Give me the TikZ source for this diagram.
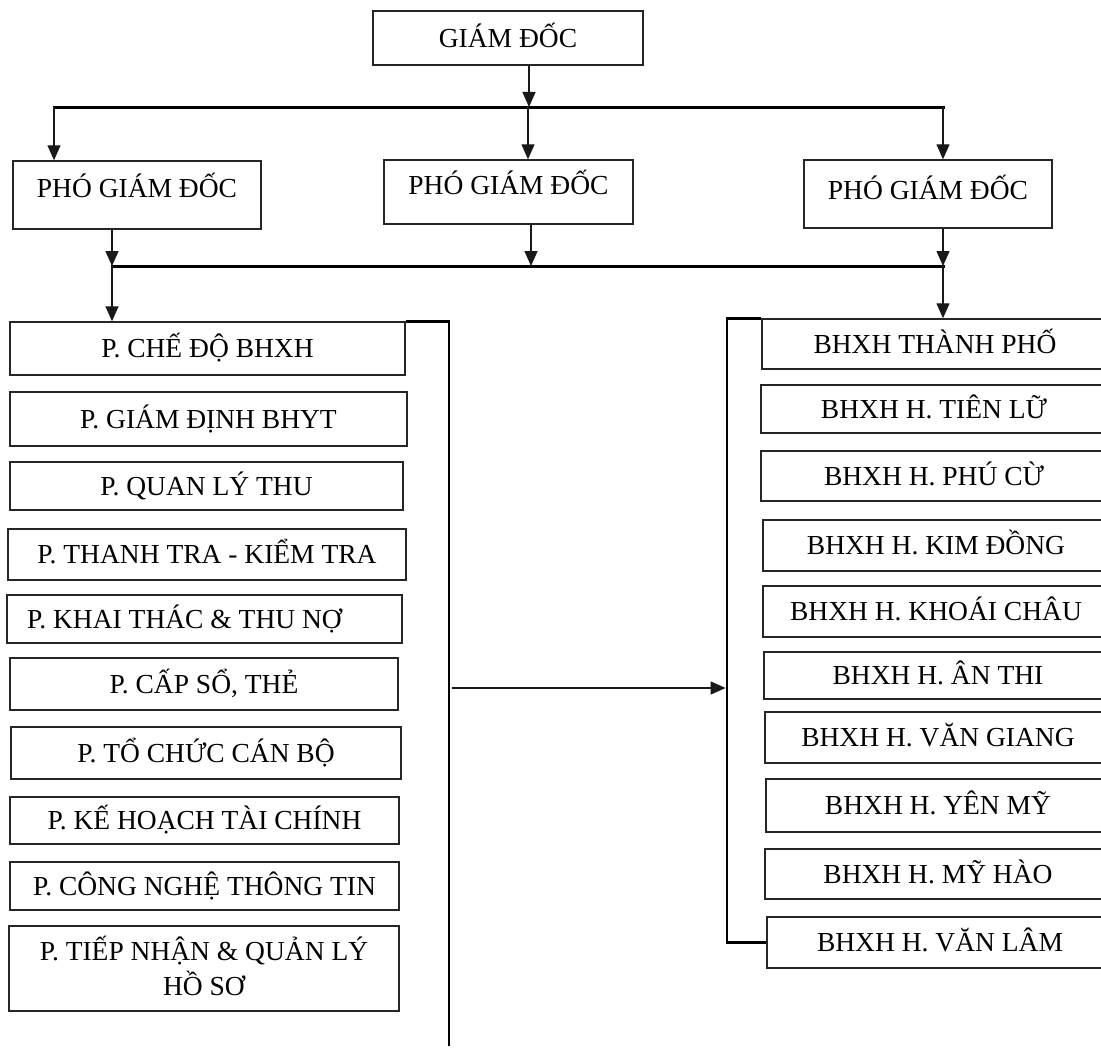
\documentclass[tikz,border=0pt]{standalone}
\usepackage{fontspec}
\setmainfont{Liberation Serif}
\usetikzlibrary{arrows.meta}
\newcommand\diafont{\fontsize{27.5}{35}\selectfont}
\tikzset{
  box/.style={draw=black!85, line width=1.4pt, inner sep=0pt, font=\diafont,
    text height=18.2pt, text depth=0pt, anchor=center},
  arr/.style={draw=black!90, line width=1.3pt, -{Triangle[length=15pt,width=13pt]}},
  bus/.style={line width=3pt, line cap=rect},
  brk/.style={line width=2.7pt},
}
\begin{document}
\begin{tikzpicture}[x=1pt,y=-1pt]
\useasboundingbox (0,0) rectangle (1101,1049);
\clip (0,0) rectangle (1101,1049);

% top level
\node[box, minimum width=270pt, minimum height=54pt] (gd) at (508,38) {GIÁM ĐỐC};

% deputy directors
\node[box, minimum width=248pt, text height=36pt, text depth=32pt] (pgd1) at (137,195) {PHÓ GIÁM ĐỐC};
\node[box, minimum width=249pt, text height=34pt, text depth=30pt] (pgd2) at (508.5,192) {PHÓ GIÁM ĐỐC};
\node[box, minimum width=248pt, text height=39pt, text depth=29pt] (pgd3) at (928,194) {PHÓ GIÁM ĐỐC};

% departments (left column)
\node[box, minimum width=395pt, minimum height=53pt] (p1) at (207.5,348.5) {P. CHẾ ĐỘ BHXH};
\node[box, minimum width=397pt, minimum height=54pt] (p2) at (208.5,419) {P. GIÁM ĐỊNH BHYT};
\node[box, minimum width=393pt, minimum height=48pt] (p3) at (206.5,486) {P. QUAN LÝ THU};
\node[box, minimum width=398pt, minimum height=51pt] (p4) at (207,554.5) {P. THANH TRA - KIỂM TRA};
\node[box, minimum width=395pt, minimum height=48pt] (p5) at (204.5,619) {\hspace*{-40pt}P. KHAI THÁC \& THU NỢ};
\node[box, minimum width=388pt, minimum height=52pt] (p6) at (204,684) {P. CẤP SỔ, THẺ};
\node[box, minimum width=390pt, minimum height=52pt] (p7) at (206,753) {P. TỔ CHỨC CÁN BỘ};
\node[box, minimum width=389pt, minimum height=47pt] (p8) at (204.5,820.5) {P. KẾ HOẠCH TÀI CHÍNH};
\node[box, minimum width=389pt, minimum height=48pt] (p9) at (204.5,886) {P. CÔNG NGHỆ THÔNG TIN};
\node[box, minimum width=390pt, minimum height=85pt, text depth=35pt] (p10) at (204,968.5)
  {\begin{tabular}[t]{@{}c@{}}P. TIẾP NHẬN \& QUẢN LÝ\\HỒ SƠ\end{tabular}};

% district offices (right column)
\node[box, minimum width=346pt, minimum height=50pt] (r1) at (935,344) {BHXH THÀNH PHỐ};
\node[box, minimum width=346pt, minimum height=48pt] (r2) at (934,409) {BHXH H. TIÊN LỮ};
\node[box, minimum width=346pt, minimum height=50pt] (r3) at (934,476) {BHXH H. PHÚ CỪ};
\node[box, minimum width=346pt, minimum height=51pt] (r4) at (936,545.5) {BHXH H. KIM ĐỒNG};
\node[box, minimum width=346pt, minimum height=51pt] (r5) at (936,611.5) {BHXH H. KHOÁI CHÂU};
\node[box, minimum width=348pt, minimum height=47pt] (r6) at (938,675.5) {BHXH H. ÂN THI};
\node[box, minimum width=346pt, minimum height=51pt] (r7) at (938,737.5) {BHXH H. VĂN GIANG};
\node[box, minimum width=344pt, minimum height=53pt] (r8) at (938,805.5) {BHXH H. YÊN MỸ};
\node[box, minimum width=346pt, minimum height=50pt] (r9) at (938,874) {BHXH H. MỸ HÀO};
\node[box, minimum width=346pt, minimum height=51pt] (r10) at (940,942.5) {BHXH H. VĂN LÂM};

% junction coordinates
\coordinate (g1) at (529,107);
\coordinate (b1L) at (54,107);
\coordinate (b1M) at (528,107);
\coordinate (b1R) at (943,107);
\coordinate (b2L) at (112,266);
\coordinate (b2M) at (531,266);
\coordinate (b2R) at (943,266);
\coordinate (lb) at (449,1046);
\coordinate (rb) at (727,0);
\coordinate (ha) at (452,688);

% director to bus
\draw[arr] (gd.south -| g1) -- (g1);
\draw[bus] (b1L) -- (b1R);
\draw[arr] (b1L) -- (b1L |- pgd1.north);
\draw[arr] (b1M) -- (b1M |- pgd2.north);
\draw[arr] (b1R) -- (b1R |- pgd3.north);

% deputies to second bus
\draw[arr] (b2L |- pgd1.south) -- (b2L);
\draw[arr] (b2M |- pgd2.south) -- (b2M);
\draw[arr] (b2R |- pgd3.south) -- (b2R);
\draw[bus] (b2L) -- (b2R);
\draw[arr] (b2L) -- (b2L |- p1.north);
\draw[arr] (b2R) -- (b2R |- r1.north);

% brackets
\draw[brk] (p1.north east) -- (p1.north east -| lb) -- (lb);
\draw[brk] (r1.north west) -- (r1.north west -| rb) -- (r10.west -| rb) -- (r10.west);
\draw[arr, shorten >=1.4pt] (ha) -- (ha -| rb);
\end{tikzpicture}
\end{document}
